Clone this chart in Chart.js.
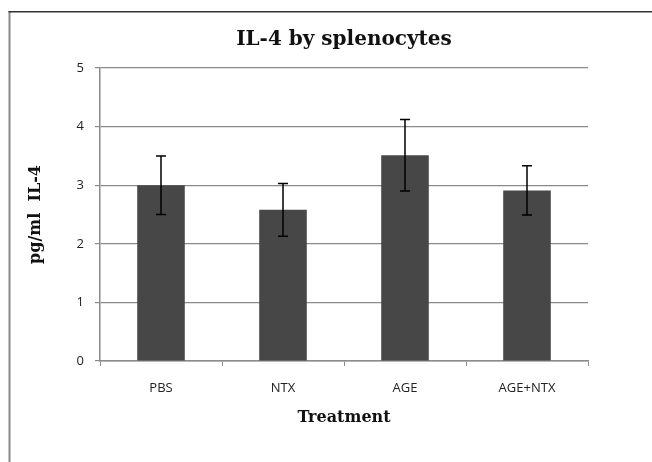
<!DOCTYPE html>
<html>
<head>
<meta charset="utf-8">
<script src="https://cdn.jsdelivr.net/npm/chart.js@4"></script>
<style>
  html, body { margin: 0; padding: 0; background: #fff; }
  canvas { display: block; }
</style>
</head>
<body>
<canvas id="c" width="652" height="462"></canvas>
<script>
const categories = ["PBS", "NTX", "AGE", "AGE+NTX"];
const means = [3.0, 2.58, 3.51, 2.91];
const errors = [0.5, 0.45, 0.61, 0.42];
const yMin = 0;
const yMax = 5;
const yStep = 1;

const serif = "'DejaVu Serif', serif";
const sans = "'Open Sans', 'Liberation Sans', sans-serif";

const framePlugin = {
  id: 'frame',
  beforeDraw(chart) {
    const ctx = chart.ctx;
    ctx.save();
    ctx.fillStyle = '#ffffff';
    ctx.fillRect(0, 0, chart.width, chart.height);
    ctx.restore();
  },
  afterDraw(chart) {
    const ctx = chart.ctx;
    ctx.save();
    ctx.strokeStyle = '#8a8a8a';
    ctx.lineWidth = 2;
    ctx.beginPath();
    ctx.moveTo(9.5, 11);
    ctx.lineTo(9.5, chart.height);
    ctx.stroke();
    ctx.strokeStyle = '#333333';
    ctx.lineWidth = 1.5;
    ctx.beginPath();
    ctx.moveTo(8.5, 11.75);
    ctx.lineTo(chart.width, 11.75);
    ctx.stroke();
    ctx.restore();
  }
};

const errorBarPlugin = {
  id: 'errorBars',
  afterDatasetsDraw(chart) {
    const ctx = chart.ctx;
    const yScale = chart.scales.y;
    const meta = chart.getDatasetMeta(0);
    ctx.save();
    ctx.strokeStyle = '#000000';
    ctx.lineWidth = 1.5;
    meta.data.forEach((bar, i) => {
      const x = bar.x;
      const yTop = yScale.getPixelForValue(means[i] + errors[i]);
      const yBot = yScale.getPixelForValue(means[i] - errors[i]);
      const cap = 5;
      ctx.beginPath();
      ctx.moveTo(x, yTop); ctx.lineTo(x, yBot);
      ctx.moveTo(x - cap, yTop); ctx.lineTo(x + cap, yTop);
      ctx.moveTo(x - cap, yBot); ctx.lineTo(x + cap, yBot);
      ctx.stroke();
    });
    ctx.restore();
  }
};

new Chart(document.getElementById('c'), {
  type: 'bar',
  data: {
    labels: categories,
    datasets: [{
      data: means,
      backgroundColor: '#474747',
      borderWidth: 0,
      barPercentage: 0.39,
      categoryPercentage: 1.0
    }]
  },
  options: {
    responsive: false,
    animation: false,
    devicePixelRatio: 1,
    layout: { padding: { top: 12, left: 10, right: 64, bottom: 0 } },
    plugins: {
      legend: { display: false },
      tooltip: { enabled: false },
      title: {
        display: true,
        text: 'IL-4 by splenocytes',
        fullSize: false,
        color: '#111',
        font: { family: serif, size: 20, weight: 'bold' },
        padding: { top: 16, bottom: 16 }
      }
    },
    scales: {
      x: {
        afterFit(s) { s.height = 101; },
        grid: {
          offset: true,
          drawOnChartArea: false,
          drawTicks: true,
          tickLength: 5,
          color: '#8a8a8a'
        },
        border: { color: '#8a8a8a', width: 1.5 },
        ticks: { color: '#222', padding: 14, font: { family: sans, size: 13 } },
        title: {
          display: true,
          text: 'Treatment',
          color: '#111',
          font: { family: serif, size: 16, weight: 'bold' },
          padding: { top: 10, bottom: 35 }
        }
      },
      y: {
        min: yMin,
        max: yMax,
        afterFit(s) { s.width = 90; },
        ticks: { stepSize: yStep, color: '#222', padding: 11, font: { family: sans, size: 13 } },
        grid: { color: '#8a8a8a', lineWidth: 1.2, tickLength: 5 },
        border: { color: '#8a8a8a', width: 1.5 },
        title: {
          display: true,
          text: 'pg/ml  IL-4',
          color: '#111',
          font: { family: serif, size: 16, weight: 'bold' },
          padding: { top: 16, bottom: 0 }
        }
      }
    }
  },
  plugins: [framePlugin, errorBarPlugin]
});
</script>
</body>
</html>
